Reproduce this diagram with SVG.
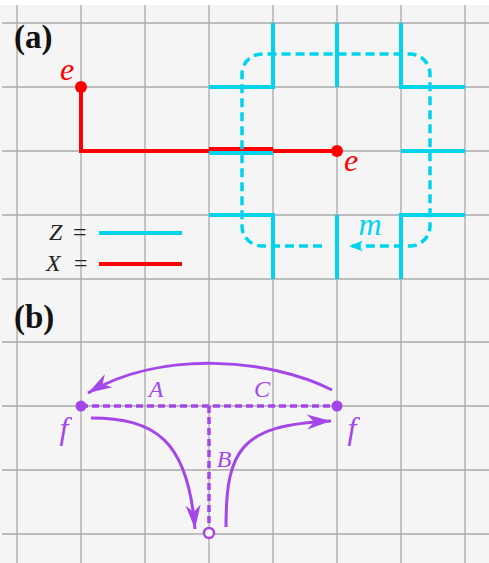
<svg xmlns="http://www.w3.org/2000/svg" width="489" height="563" viewBox="0 0 489 563">
<style>
.grid{stroke:#a9a9a9;stroke-width:1.3;fill:none}
.z{stroke:#00d4ec;stroke-width:4;fill:none}
.x{stroke:#ff0000;stroke-width:4;fill:none}
.zd{stroke:#00d4ec;stroke-width:3.5;fill:none;stroke-dasharray:9,5}
.pd{stroke:#a447e8;stroke-width:3.5;fill:none;stroke-dasharray:7,4}
.pc{stroke:#a447e8;stroke-width:3;fill:none}
text{font-family:'Liberation Serif',serif}
.math{font-style:italic}
.lab{font-weight:bold;font-size:33px;fill:#111}
.eq{font-size:24px;fill:#222}
</style>
<defs>
<marker id="ap" viewBox="-25 -8 26 16" refX="0" refY="0" markerWidth="26" markerHeight="16" markerUnits="userSpaceOnUse" orient="auto">
<path d="M0,0 L-24,-7.5 L-17,0 L-24,7.5 Z" fill="#a447e8"/>
</marker>
<marker id="ac" viewBox="-15 -6 16 12" refX="0" refY="0" markerWidth="16" markerHeight="12" markerUnits="userSpaceOnUse" orient="auto">
<path d="M0,0 L-14,-5.5 L-10,0 L-14,5.5 Z" fill="#00d4ec"/>
</marker>
</defs>
<rect x="0" y="0" width="489" height="563" fill="#ffffff"/>
<rect x="0" y="5" width="489" height="558" fill="#f5f5f5"/>
<g id="grid" class="grid">
<path d="M17,5 V563 M81,5 V563 M145,5 V563 M209,5 V563 M273,5 V563 M337,5 V563 M401,5 V563 M465,5 V563"/>
<path d="M2,23 H489 M2,87 H489 M2,151 H489 M2,215 H489 M2,279 H489 M2,342 H489 M2,406 H489 M2,470 H489 M2,534 H489"/>
</g>
<g id="panel-a">
<text class="lab" x="14" y="48">(a)</text>
<g id="z-operators" class="z">
<path d="M209,87 H273 V23"/>
<path d="M337,23 V87"/>
<path d="M401,23 V87 H465"/>
<path d="M209,153 H273"/>
<path d="M401,151 H465"/>
<path d="M209,215 H273 V279"/>
<path d="M337,215 V279"/>
<path d="M401,279 V215 H465"/>
</g>
<g id="x-string" class="x">
<path d="M81,87 V151 H209"/>
<path d="M209,149 H273"/>
<path d="M273,151 H337"/>
</g>
<g id="connectors-a">
<path class="zd" d="M322,246 H262 A20,20 0 0 1 242,226 V74 A20,20 0 0 1 262,54 H410 A20,20 0 0 1 430,74 V226 A20,20 0 0 1 410,246 H349" marker-end="url(#ac)"/>
</g>
<g id="node-e1">
<circle cx="81" cy="87" r="6" fill="#ff0000"/>
<text class="math" x="67" y="80" font-size="32" fill="#ff0000" text-anchor="middle">e</text>
</g>
<g id="node-e2">
<circle cx="337" cy="151" r="6" fill="#ff0000"/>
<text class="math" x="351" y="171" font-size="32" fill="#ff0000" text-anchor="middle">e</text>
</g>
<text id="label-m" class="math" x="370" y="235" font-size="32" fill="#00d4ec" text-anchor="middle">m</text>
<g id="legend">
<text class="math" x="49" y="240" font-size="24" fill="#222">Z</text>
<text class="eq" x="73" y="240">=</text>
<line x1="99" y1="233" x2="182" y2="233" class="z"/>
<text class="math" x="46" y="271" font-size="24" fill="#222">X</text>
<text class="eq" x="74" y="271">=</text>
<line x1="99" y1="264" x2="182" y2="264" class="x"/>
</g>
</g>
<g id="panel-b">
<text class="lab" x="14" y="328">(b)</text>
<g id="connectors-b">
<path class="pd" d="M81,406 H337"/>
<path class="pd" d="M209,406 V528"/>
<path class="pc" d="M332,390 C270,358 160,350 88,393" marker-end="url(#ap)"/>
<path class="pc" d="M91,418 C155,418 188,440 195,529" marker-end="url(#ap)"/>
<path class="pc" d="M226,527 C226,450 240,425 331,421" marker-end="url(#ap)"/>
</g>
<g id="node-f1">
<circle cx="81" cy="406" r="5.5" fill="#a447e8"/>
<text class="math" x="64" y="439" font-size="32" fill="#a447e8" text-anchor="middle">f</text>
</g>
<g id="node-f2">
<circle cx="337" cy="406" r="5.5" fill="#a447e8"/>
<text class="math" x="352" y="439" font-size="32" fill="#a447e8" text-anchor="middle">f</text>
</g>
<g id="node-o">
<circle cx="209" cy="533" r="5" fill="#f5f5f5" stroke="#a447e8" stroke-width="2.5"/>
</g>
<text id="label-A" class="math" x="156" y="397" font-size="24" fill="#a447e8" text-anchor="middle">A</text>
<text id="label-C" class="math" x="262" y="397" font-size="24" fill="#a447e8" text-anchor="middle">C</text>
<text id="label-B" class="math" x="224" y="467" font-size="24" fill="#a447e8" text-anchor="middle">B</text>
</g>
</svg>
